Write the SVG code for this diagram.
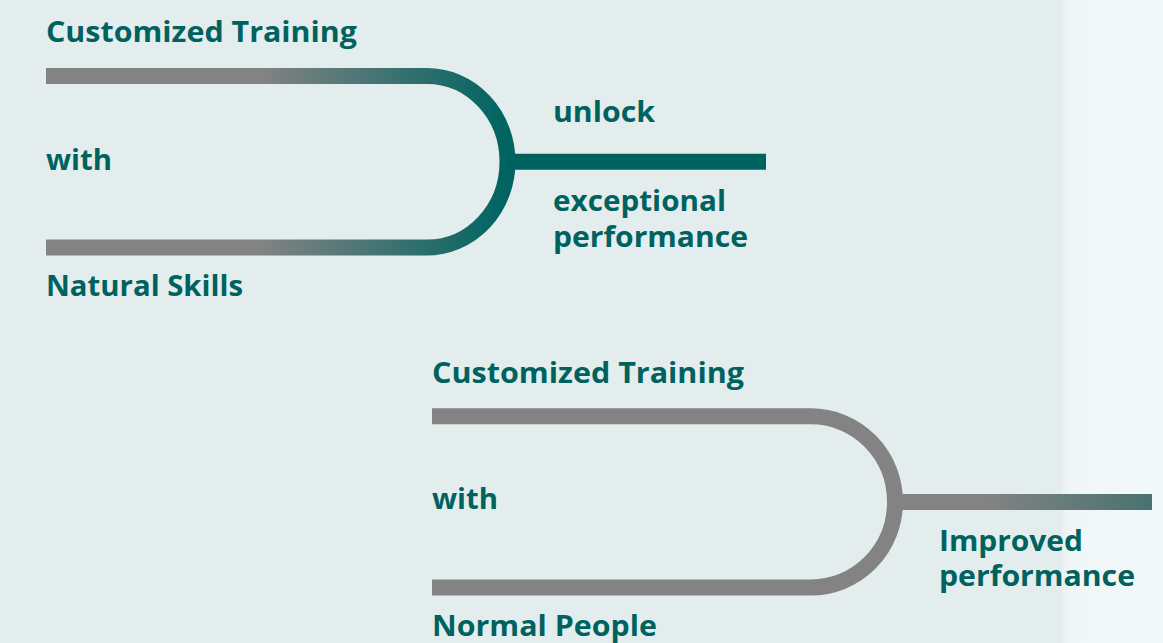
<svg xmlns="http://www.w3.org/2000/svg" width="1163" height="643" viewBox="0 0 1163 643">
  <style>
    .lbl { font-family: "Open Sans", "Liberation Sans", sans-serif; font-weight: 700; font-size: 29px; fill: #00625F; }
    .wire { fill: none; stroke-width: 16; }
  </style>
  <defs>
    <linearGradient id="forkTop" gradientUnits="userSpaceOnUse" x1="260" y1="0" x2="505" y2="0">
      <stop offset="0" stop-color="#838383"/>
      <stop offset="1" stop-color="#006461"/>
    </linearGradient>
    <linearGradient id="tailBottom" gradientUnits="userSpaceOnUse" x1="985" y1="0" x2="1152" y2="0">
      <stop offset="0" stop-color="#838383"/>
      <stop offset="1" stop-color="#477371"/>
    </linearGradient>
    <linearGradient id="sideEdge" x1="0" y1="0" x2="1" y2="0">
      <stop offset="0" stop-color="#E9F1F1"/>
      <stop offset="0.1" stop-color="#F1F6F6"/>
      <stop offset="1" stop-color="#F2F7F7"/>
    </linearGradient>
  </defs>

  <!-- background panels -->
  <rect x="0" y="0" width="1163" height="643" fill="#E4EDED"/>
  <rect x="1062" y="0" width="101" height="643" fill="url(#sideEdge)"/>

  <!-- connectors -->
  <g id="connectors">
    <path class="wire" stroke="url(#forkTop)" d="M46 76 H427 A80.5 85.75 0 0 1 427 247.5 H46"/>
    <path class="wire" stroke="#00625F" d="M507 161.75 H766"/>
    <path class="wire" stroke="#838383" d="M432 416.3 H811 A84 85.6 0 0 1 811 587.5 H432"/>
    <path class="wire" stroke="url(#tailBottom)" d="M894 502 H1152"/>
  </g>

  <!-- upper fork -->
  <g id="top-training">
    <text class="lbl" x="46" y="42" textLength="311" lengthAdjust="spacingAndGlyphs">Customized Training</text>
  </g>
  <g id="top-with">
    <text class="lbl" x="46" y="170" textLength="66" lengthAdjust="spacingAndGlyphs">with</text>
  </g>
  <g id="top-skills">
    <text class="lbl" x="46" y="296" textLength="197" lengthAdjust="spacingAndGlyphs">Natural Skills</text>
  </g>
  <g id="top-unlock">
    <text class="lbl" x="553" y="121.5" textLength="102" lengthAdjust="spacingAndGlyphs">unlock</text>
  </g>
  <g id="top-result">
    <text class="lbl"><tspan x="553" y="211" textLength="173" lengthAdjust="spacingAndGlyphs">exceptional</tspan><tspan x="553" y="246.5" textLength="195" lengthAdjust="spacingAndGlyphs">performance</tspan></text>
  </g>

  <!-- lower fork -->
  <g id="bottom-training">
    <text class="lbl" x="432" y="382.5" textLength="312" lengthAdjust="spacingAndGlyphs">Customized Training</text>
  </g>
  <g id="bottom-with">
    <text class="lbl" x="432" y="509" textLength="66" lengthAdjust="spacingAndGlyphs">with</text>
  </g>
  <g id="bottom-people">
    <text class="lbl" x="432" y="636" textLength="225" lengthAdjust="spacingAndGlyphs">Normal People</text>
  </g>
  <g id="bottom-result">
    <text class="lbl"><tspan x="939" y="550.5" textLength="144" lengthAdjust="spacingAndGlyphs">Improved</tspan><tspan x="939" y="586" textLength="196" lengthAdjust="spacingAndGlyphs">performance</tspan></text>
  </g>
</svg>
